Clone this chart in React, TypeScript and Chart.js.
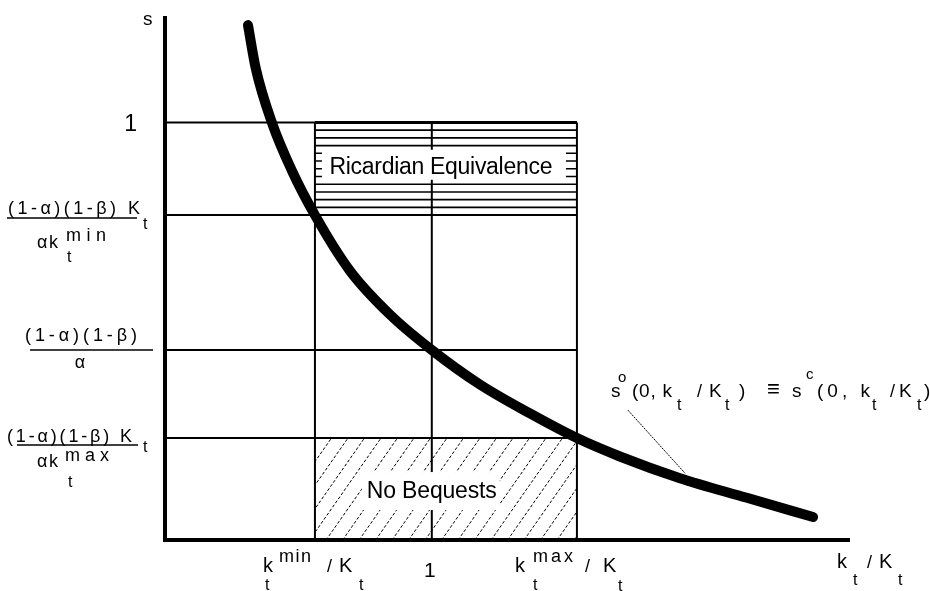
import React, { useEffect, useRef } from "react";
import { Chart, registerables } from "chart.js";

Chart.register(...registerables);

// ---- axis ranges (units: k_t/K_t on x, s on y)
const X_MAX = 2.56;
const Y_MAX = 1.25;

// ---- x tick values
const K_MIN = 0.562;
const K_ONE = 1;
const K_MAX = 1.544;

// ---- y tick values
const S_ONE = 1;
const S_AT_KMIN = 0.778;
const S_MID = 0.455;
const S_AT_KMAX = 0.244;

// ---- the curve s°(0, k/K) = s^c(0, k/K)
const curveX = [0.311, 0.34, 0.401, 0.476, 0.562, 0.693, 0.843, 1.0, 1.181, 1.368, 1.544, 1.705, 1.93, 2.181, 2.429];
const curveY = [1.233, 1.13, 0.999, 0.884, 0.778, 0.645, 0.54, 0.455, 0.372, 0.303, 0.244, 0.2, 0.148, 0.101, 0.055];

// ---- reference lines
const levelsY = [S_ONE, S_AT_KMIN, S_MID, S_AT_KMAX];
const levelsX = [K_MIN, K_ONE, K_MAX];

// ---- leader line of the curve label
const calloutX = [1.735, 1.949];
const calloutY = [0.311, 0.16];

// ---- texts
const REGION_TOP = "Ricardian Equivalence";
const REGION_BOTTOM = "No Bequests";
const FRAC_NUM = "(1-α)(1-β)";

const FONT = '"Liberation Sans", Arial, sans-serif';

function put(
  ctx: CanvasRenderingContext2D,
  s: string,
  x: number,
  y: number,
  size: number,
  align: CanvasTextAlign = "left",
  width?: number
) {
  ctx.font = `${size}px ${FONT}`;
  ctx.textBaseline = "alphabetic";
  const chars = Array.from(s);
  if (!width || chars.length < 2) {
    ctx.textAlign = align;
    ctx.fillText(s, x, y);
    return;
  }
  const ws = chars.map((c) => ctx.measureText(c).width);
  const total = ws.reduce((a, b) => a + b, 0);
  const gap = (width - total) / (chars.length - 1);
  let cx = align === "center" ? x - width / 2 : align === "right" ? x - width : x;
  ctx.textAlign = "left";
  chars.forEach((c, i) => {
    ctx.fillText(c, cx, y);
    cx += ws[i] + gap;
  });
}

function hline(ctx: CanvasRenderingContext2D, x1: number, x2: number, y: number, w: number) {
  ctx.lineWidth = w;
  ctx.beginPath();
  ctx.moveTo(x1, y);
  ctx.lineTo(x2, y);
  ctx.stroke();
}

const diagramPlugin = {
  id: "diagram",
  beforeDatasetsDraw(chart: any) {
    const { ctx, scales } = chart;
    const x = scales.x;
    const y = scales.y;
    const l = x.getPixelForValue(K_MIN);
    const r = x.getPixelForValue(K_MAX);
    ctx.save();
    ctx.strokeStyle = "#000";
    // horizontal hatching of the Ricardian region
    const n = 12;
    for (let i = 0; i <= n; i++) {
      const v = S_AT_KMIN + ((S_ONE - S_AT_KMIN) * i) / n;
      hline(ctx, l, r, y.getPixelForValue(v), i === n ? 3 : 1.6);
    }
    // diagonal dashed hatching of the No Bequests region
    const top = y.getPixelForValue(S_AT_KMAX);
    const bot = y.getPixelForValue(0);
    ctx.beginPath();
    ctx.rect(l, top, r - l, bot - top);
    ctx.clip();
    ctx.setLineDash([3, 2]);
    ctx.lineWidth = 1;
    const h = bot - top;
    const k = 0.7;
    for (let sx = l - h * k; sx < r + 20; sx += 16.5) {
      ctx.beginPath();
      ctx.moveTo(sx, bot);
      ctx.lineTo(sx + h * k, top);
      ctx.stroke();
    }
    ctx.restore();
  },
  afterDatasetsDraw(chart: any) {
    const { ctx, scales } = chart;
    const x = scales.x;
    const y = scales.y;
    const X0 = x.getPixelForValue(0);
    const XR = x.getPixelForValue(X_MAX);
    const Y0 = y.getPixelForValue(0);
    const l = x.getPixelForValue(K_MIN);
    const r = x.getPixelForValue(K_MAX);
    const xm = x.getPixelForValue(K_ONE);
    const yOne = y.getPixelForValue(S_ONE);
    const yMin = y.getPixelForValue(S_AT_KMIN);
    const yMid = y.getPixelForValue(S_MID);
    const yMax = y.getPixelForValue(S_AT_KMAX);

    ctx.save();
    // region labels on white
    const yr = (yOne + yMin) / 2;
    ctx.fillStyle = "#fff";
    ctx.fillRect(l + 7, yr - 19, r - l - 18, 30);
    const yb = (yMax + Y0) / 2;
    ctx.fillRect(xm - 70, yb - 17, 138, 38);
    ctx.fillStyle = "#000";
    ctx.strokeStyle = "#000";
    put(ctx, REGION_TOP, (l + r) / 2 - 5, yr + 5, 23, "center", 223);
    put(ctx, REGION_BOTTOM, xm, yb + 9, 23, "center", 130);

    // y-axis title and tick labels
    put(ctx, "s", X0 - 22, 25, 19);
    put(ctx, "1", X0 - 28, yOne + 9, 23, "right");

    // (1-α)(1-β)K_t / α k_t^min
    put(ctx, FRAC_NUM + " K", X0 - 157, yMin - 1, 18, "left", 132);
    put(ctx, "t", X0 - 22, yMin + 14, 16);
    hline(ctx, X0 - 158, X0 - 28, yMin + 3, 1.5);
    put(ctx, "αk", X0 - 128, yMin + 33, 18, "left", 21);
    put(ctx, "min", X0 - 99, yMin + 26, 18, "left", 40);
    put(ctx, "t", X0 - 98, yMin + 47, 16);

    // (1-α)(1-β) / α
    put(ctx, FRAC_NUM, X0 - 140, yMid - 9, 18, "left", 112);
    hline(ctx, X0 - 135, X0 - 12, yMid, 1.5);
    put(ctx, "α", X0 - 85, yMid + 18, 18, "center");

    // (1-α)(1-β)K_t / α k_t^max
    put(ctx, FRAC_NUM + " K", X0 - 158, yMax + 4, 18, "left", 125);
    put(ctx, "t", X0 - 22, yMax + 14, 16);
    hline(ctx, X0 - 148, X0 - 27, yMax + 7, 1.5);
    put(ctx, "αk", X0 - 128, yMax + 29, 18, "left", 21);
    put(ctx, "max", X0 - 100, yMax + 23, 18, "left", 44);
    put(ctx, "t", X0 - 97, yMax + 49, 16);

    // x tick labels
    const xl = x.getPixelForValue(K_MIN);
    const bl = Y0 + 32;
    const sub = Y0 + 50;
    const sup = Y0 + 22;
    put(ctx, "k", xl - 52, bl, 20);
    put(ctx, "t", xl - 50, sub, 16);
    put(ctx, "min", xl - 36, sup, 18, "left", 32);
    put(ctx, "/", xl + 12, bl, 18);
    put(ctx, "K", xl + 24, bl, 20);
    put(ctx, "t", xl + 44, sub, 16);

    put(ctx, "1", xm - 2, Y0 + 37, 21, "center");

    const xh = x.getPixelForValue(K_MAX);
    put(ctx, "k", xh - 62, bl, 20);
    put(ctx, "t", xh - 44, sub, 16);
    put(ctx, "max", xh - 44, sup, 18, "left", 40);
    put(ctx, "/", xh + 8, bl, 18);
    put(ctx, "K", xh + 26, bl, 20);
    put(ctx, "t", xh + 41, sub + 1, 16);

    // x-axis title
    put(ctx, "k", XR - 11, Y0 + 28, 20);
    put(ctx, "t", XR + 5, Y0 + 45, 16);
    put(ctx, "/", XR + 19, Y0 + 28, 18);
    put(ctx, "K", XR + 31, Y0 + 28, 20);
    put(ctx, "t", XR + 50, Y0 + 45, 16);

    // curve label
    const lb = 397;
    put(ctx, "s", 611, lb, 19);
    put(ctx, "o", 618, 382, 15);
    put(ctx, "(0, k", 632, lb, 19, "left", 40);
    put(ctx, "t", 677, lb + 13, 16);
    put(ctx, "/", 697, lb, 18);
    put(ctx, "K", 709, lb, 19);
    put(ctx, "t", 725, lb + 13, 16);
    put(ctx, ")", 739, lb, 19);
    put(ctx, "≡", 767, lb - 1, 22);
    put(ctx, "s", 792, lb, 19);
    put(ctx, "c", 806, 379, 15);
    put(ctx, "(0, k", 817, lb, 19, "left", 53);
    put(ctx, "t", 872, lb + 13, 16);
    put(ctx, "/", 890, lb, 18);
    put(ctx, "K", 899, lb, 19);
    put(ctx, "t", 917, lb + 13, 16);
    put(ctx, ")", 924, lb, 19);
    ctx.restore();
  },
};

function seg(points: { x: number; y: number }[], width: number, extra: any = {}) {
  return {
    data: points,
    borderColor: "#000",
    backgroundColor: "#000",
    borderWidth: width,
    pointRadius: 0,
    showLine: true,
    fill: false,
    clip: false,
    tension: 0,
    ...extra,
  };
}

export default function App() {
  const ref = useRef<HTMLCanvasElement>(null);
  useEffect(() => {
    if (!ref.current) return;
    const datasets: any[] = [];
    // reference lines
    levelsY.forEach((v) => datasets.push(seg([{ x: 0, y: v }, { x: K_MAX, y: v }], 2)));
    levelsX.forEach((v) => datasets.push(seg([{ x: v, y: 0 }, { x: v, y: S_ONE }], 2)));
    // axes
    datasets.push(seg([{ x: 0, y: Y_MAX }, { x: 0, y: 0 }, { x: X_MAX, y: 0 }], 4, { borderCapStyle: "square", borderJoinStyle: "miter" }));
    // leader line
    datasets.push(seg(calloutX.map((v, i) => ({ x: v, y: calloutY[i] })), 1, { borderDash: [2, 1] }));
    // curve
    datasets.push(
      seg(curveX.map((v, i) => ({ x: v, y: curveY[i] })), 10, {
        tension: 0.4,
        cubicInterpolationMode: "monotone",
        borderCapStyle: "round",
        borderJoinStyle: "round",
      })
    );
    const chart = new Chart(ref.current, {
      type: "scatter",
      data: { datasets },
      options: {
        animation: false,
        responsive: false,
        devicePixelRatio: 1,
        events: [],
        layout: { padding: { left: 165, right: 82, top: 18, bottom: 51 } },
        plugins: { legend: { display: false }, tooltip: { enabled: false } },
        scales: {
          x: { type: "linear", min: 0, max: X_MAX, display: false },
          y: { type: "linear", min: 0, max: Y_MAX, display: false },
        },
      },
      plugins: [diagramPlugin],
    });
    return () => chart.destroy();
  }, []);
  return (
    <div style={{ position: "fixed", left: 0, top: 0, width: 930, height: 591, background: "#fff" }}>
      <canvas ref={ref} width={930} height={591} style={{ display: "block", width: 930, height: 591 }} />
    </div>
  );
}
